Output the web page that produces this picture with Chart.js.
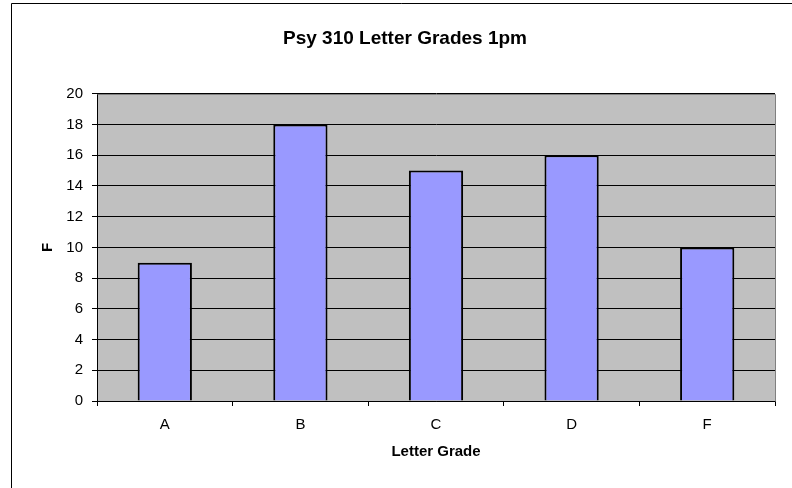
<!DOCTYPE html>
<html>
<head>
<meta charset="utf-8">
<script src="https://cdn.jsdelivr.net/npm/chart.js@4/dist/chart.umd.min.js"></script>
<style>
  body { margin: 0; background: #fff; }
  #wrap { width: 792px; height: 488px; }
</style>
</head>
<body>
<div id="wrap"><canvas id="chart" width="792" height="488"></canvas></div>
<script>
const grades = ['A', 'B', 'C', 'D', 'F'];
const counts = [9, 18, 15, 16, 10];
const yTicks = [0, 2, 4, 6, 8, 10, 12, 14, 16, 18, 20];

const FONT = "'Liberation Sans', Arial, sans-serif";

// fond gris de la zone de tracé + cadre extérieur
const frame = {
  id: 'frame',
  beforeDraw(chart) {
    const { ctx, chartArea: a } = chart;
    ctx.save();
    ctx.fillStyle = '#fff';
    ctx.fillRect(0, 0, chart.width, chart.height);
    ctx.fillStyle = '#C0C0C0';
    ctx.fillRect(a.left, a.top, a.right - a.left, a.bottom - a.top);
    ctx.strokeStyle = '#000';
    ctx.lineWidth = 1;
    ctx.beginPath();
    ctx.moveTo(11.5, chart.height);
    ctx.lineTo(11.5, 3.5);
    ctx.lineTo(chart.width, 3.5);
    ctx.stroke();
    ctx.restore();
  },
  afterDraw(chart) {
    const { ctx, chartArea: a } = chart;
    ctx.save();
    ctx.strokeStyle = '#808080';
    ctx.lineWidth = 1;
    ctx.beginPath();
    ctx.moveTo(Math.round(a.left) + 0.5, Math.round(a.top) + 0.5);
    ctx.lineTo(Math.round(a.right) + 0.5, Math.round(a.top) + 0.5);
    ctx.lineTo(Math.round(a.right) + 0.5, Math.round(a.bottom) + 0.5);
    ctx.stroke();
    ctx.restore();
  }
};

new Chart(document.getElementById('chart'), {
  type: 'bar',
  data: {
    labels: grades,
    datasets: [{
      data: counts,
      backgroundColor: '#9999FF',
      borderColor: '#000',
      borderWidth: 2,
      categoryPercentage: 1,
      barPercentage: 0.4
    }]
  },
  options: {
    responsive: false,
    animation: false,
    layout: { padding: { left: 35, right: 17, top: 0, bottom: 0 } },
    plugins: {
      legend: { display: false },
      tooltip: { enabled: false },
      title: {
        display: true,
        text: 'Psy 310 Letter Grades 1pm',
        color: '#000',
        font: { family: FONT, size: 19, weight: 'bold', lineHeight: 1.2 },
        padding: { top: 27, bottom: 44 }
      }
    },
    scales: {
      x: {
        afterFit: s => { s.height = 87; },
        grid: { offset: true, drawOnChartArea: false, drawTicks: true, tickLength: 5, color: '#000' },
        border: { color: '#000', width: 1 },
        ticks: { color: '#000', padding: 10, font: { family: FONT, size: 15 } },
        title: {
          display: true,
          text: 'Letter Grade',
          color: '#000',
          font: { family: FONT, size: 15, weight: 'bold', lineHeight: 1.2 },
          padding: { top: 0, bottom: 27 }
        }
      },
      y: {
        min: 0,
        max: 20,
        afterFit: s => { s.width = 62; },
        afterBuildTicks: s => { s.ticks = yTicks.map(v => ({ value: v })); },
        grid: { color: '#000', tickLength: 5 },
        border: { color: '#000', width: 1 },
        ticks: { color: '#000', padding: 9, font: { family: FONT, size: 15 } },
        title: {
          display: true,
          text: 'F',
          color: '#000',
          font: { family: FONT, size: 15, weight: 'bold', lineHeight: 1.2 },
          padding: { top: 4, bottom: 0 }
        }
      }
    }
  },
  plugins: [frame]
});
</script>
</body>
</html>
